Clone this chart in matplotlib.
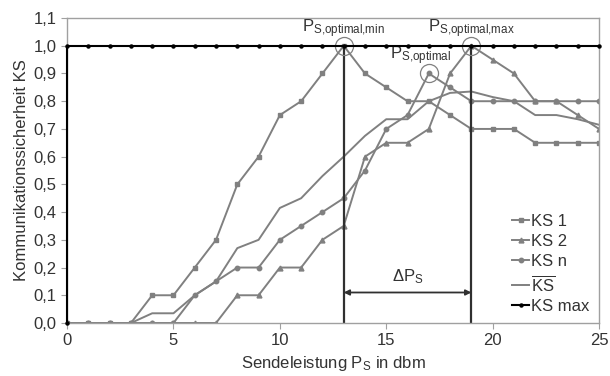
import numpy as np
import matplotlib
matplotlib.use("Agg")
import matplotlib.pyplot as plt

plt.rcParams['font.family'] = ['Liberation Sans', 'DejaVu Sans']
plt.rcParams['mathtext.fontset'] = 'custom'
plt.rcParams['mathtext.rm'] = 'Liberation Sans'
plt.rcParams['mathtext.it'] = 'Liberation Sans:italic'

# Daten
sendeleistung = list(range(26))
ks1 = [0, 0, 0, 0, 0.1, 0.1, 0.2, 0.3, 0.5, 0.6, 0.75, 0.8, 0.9, 1.0, 0.9, 0.85,
       0.8, 0.8, 0.75, 0.7, 0.7, 0.7, 0.65, 0.65, 0.65, 0.65]
ks2 = [0, 0, 0, 0, 0, 0, 0, 0, 0.1, 0.1, 0.2, 0.2, 0.3, 0.35, 0.6, 0.65,
       0.65, 0.7, 0.9, 1.0, 0.95, 0.9, 0.8, 0.8, 0.75, 0.7]
ksn = [0, 0, 0, 0, 0, 0, 0.1, 0.15, 0.2, 0.2, 0.3, 0.35, 0.4, 0.45, 0.55, 0.7,
       0.75, 0.9, 0.85, 0.8, 0.8, 0.8, 0.8, 0.8, 0.8, 0.8]
ks_mittel = [0, 0, 0, 0, 0.035, 0.035, 0.1, 0.15, 0.27, 0.3, 0.415, 0.45, 0.53, 0.6,
             0.675, 0.735, 0.735, 0.8, 0.83, 0.835, 0.815, 0.8, 0.75, 0.75, 0.735, 0.715]
ks_max_x = [0] + list(range(26))
ks_max = [0] + [1.0] * 26

# Optimale Sendeleistungen
p_opt_min = 13
p_opt_max = 19
p_opt = (17, 0.9)

x_ticks = [0, 5, 10, 15, 20, 25]
y_ticks = [0.0, 0.1, 0.2, 0.3, 0.4, 0.5, 0.6, 0.7, 0.8, 0.9, 1.0, 1.1]
y_labels = ['0,0', '0,1', '0,2', '0,3', '0,4', '0,5', '0,6', '0,7', '0,8', '0,9', '1,0', '1,1']

grau = '#808080'
dunkel = '#303030'
text_farbe = '#333333'

fig = plt.figure(figsize=(6.10, 3.76), dpi=100)
ax = fig.add_axes([0.110, 0.141, 0.872, 0.811])

ax.plot(sendeleistung, ks1, color=grau, lw=1.4, marker='s', ms=3.5, label='KS 1')
ax.plot(sendeleistung, ks2, color=grau, lw=1.4, marker='^', ms=3.5, label='KS 2')
ax.plot(sendeleistung, ksn, color=grau, lw=1.4, marker='o', ms=3.2, label='KS n')
ax.plot(sendeleistung, ks_mittel, color=grau, lw=1.4, label=r'$\overline{\mathrm{KS}}$')
ax.plot(ks_max_x, ks_max, color='black', lw=1.5, marker='o', ms=2.2, label='KS max',
        clip_on=False, zorder=5)

# senkrechte Linien bei P_S,optimal,min und max
ax.vlines([p_opt_min, p_opt_max], 0, 1.0, color=dunkel, lw=1.6)

# Kreise um die Optimalpunkte
for cx, cy in [(p_opt_min, 1.0), (p_opt_max, 1.0), p_opt]:
    ax.plot(cx, cy, marker='o', ms=13, mfc='none', mec=grau, mew=0.9)

ax.text(p_opt_min, 1.02, r'P$_\mathrm{S{,}optimal{,}min}$', ha='center', va='bottom',
        fontsize=12, color=text_farbe)
ax.text(p_opt_max, 1.02, r'P$_\mathrm{S{,}optimal{,}max}$', ha='center', va='bottom',
        fontsize=12, color=text_farbe)
ax.text(16.6, 0.925, r'P$_\mathrm{S{,}optimal}$', ha='center', va='bottom',
        fontsize=12, color=text_farbe)

# Delta P_S Pfeil
ax.annotate('', xy=(p_opt_min, 0.11), xytext=(p_opt_max, 0.11),
            arrowprops=dict(arrowstyle='<|-|>', color=dunkel, lw=1.3,
                            mutation_scale=8, shrinkA=0, shrinkB=0))
ax.text((p_opt_min + p_opt_max) / 2, 0.135, r'$\Delta$P$_\mathrm{S}$', ha='center',
        va='bottom', fontsize=12, color=text_farbe)

ax.set_xlim(0, 25)
ax.set_ylim(0, 1.1)
ax.set_xticks(x_ticks)
ax.set_yticks(y_ticks)
ax.set_yticklabels(y_labels)
ax.tick_params(labelsize=12, labelcolor=text_farbe, color='#a0a0a0', length=4, width=0.8)
for s in ax.spines.values():
    s.set_color('#a0a0a0')
    s.set_linewidth(1.0)

ax.set_xlabel(r'Sendeleistung P$_\mathrm{S}$ in dbm', fontsize=12, labelpad=4,
              color=text_farbe)
ax.set_ylabel('Kommunikationssicherheit KS', fontsize=12, labelpad=3, color=text_farbe)

leg = ax.legend(loc='lower right', fontsize=12, handlelength=1.0, handletextpad=0.15,
                borderaxespad=0.25, frameon=False, labelspacing=0.3, borderpad=0.3,
                labelcolor=text_farbe)

fig.savefig('out.png', dpi=100)
